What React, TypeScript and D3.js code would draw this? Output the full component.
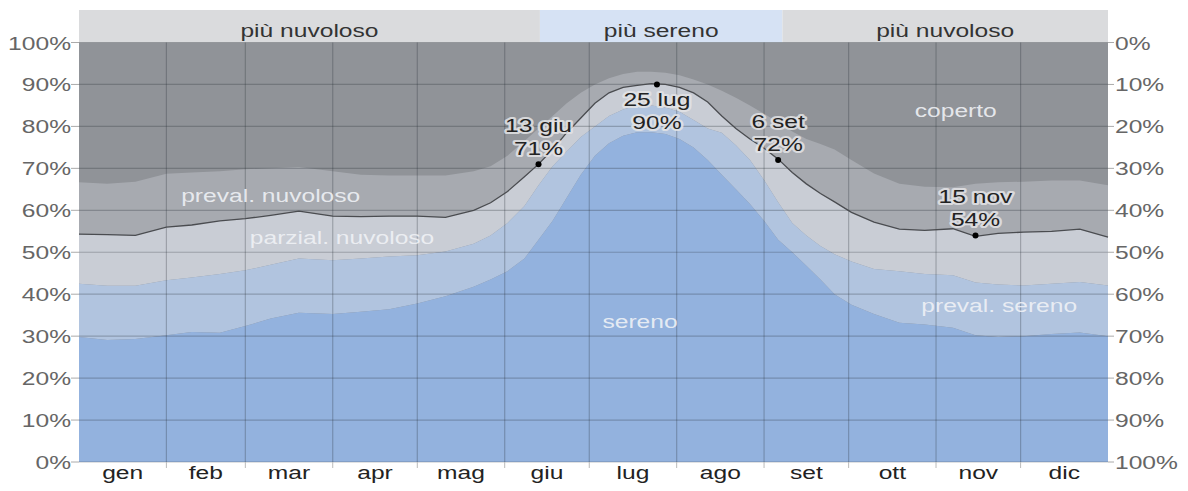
import React from "react";
import * as d3 from "d3";

// day of year (0 = 1 gen) and cumulative upper edge of each band, in %
const days = [0, 10, 20, 31, 40, 50, 59, 68, 78, 90, 100, 110, 120, 130, 140, 146, 152, 158, 163, 168, 173, 178, 183, 188, 193, 198, 203, 208, 213, 218, 223, 228, 233, 238, 243, 248, 253, 258, 263, 268, 274, 282, 291, 300, 310, 318, 326, 335, 345, 355, 365];
const sereno = [29.8, 29.1, 29.3, 30.2, 31, 30.8, 32.4, 34.2, 35.6, 35.3, 35.8, 36.4, 37.8, 39.5, 41.8, 43.5, 45.5, 48.5, 53, 57.5, 63, 68.5, 73, 76, 77.8, 78.6, 78.6, 78.2, 77, 75, 72, 68.5, 65, 61.5, 57.5, 53, 50, 46.8, 43.5, 40, 37.5, 35.3, 33.2, 32.8, 32, 30.2, 29.8, 30, 30.5, 30.9, 30];
const prevalSereno = [42.5, 42, 42, 43.3, 44, 44.8, 45.7, 47, 48.5, 48.1, 48.5, 49, 49.3, 50.2, 52, 54, 57, 61, 66, 70.5, 74, 77.5, 80, 82.5, 84, 85, 85, 84.5, 83.5, 81.5, 79.5, 78.5, 75.5, 72, 67.2, 61.9, 57, 54, 51.5, 49.5, 47.8, 46, 45.5, 44.8, 44.5, 42.8, 42.3, 42.1, 42.5, 42.9, 42.1];
const parzialNuvoloso = [54.3, 54.2, 54, 56, 56.5, 57.5, 58, 58.8, 59.8, 58.6, 58.5, 58.6, 58.6, 58.3, 60, 61.8, 64.5, 68, 71, 74.5, 78.5, 82, 85.5, 88, 89.3, 89.8, 90.2, 90, 89.3, 88, 85.8, 82.5, 79.5, 77, 74.8, 72.2, 69, 66.3, 64, 62, 59.5, 57.2, 55.5, 55.2, 55.6, 53.8, 54.5, 54.8, 55, 55.5, 53.6];
const prevalNuvoloso = [66.7, 66.3, 66.8, 68.7, 69, 69.3, 69.8, 70, 70.3, 69.3, 68.5, 68.3, 68.3, 68.3, 69.3, 70.5, 73, 76.5, 79.5, 82.5, 85.5, 88, 90, 91.5, 92.5, 93, 93, 92.8, 92.2, 91.2, 90, 88.5, 86.8, 85, 83, 81, 78.8, 77, 75.8, 74.5, 72, 68.8, 66.3, 65.6, 65.5, 66.3, 66.7, 66.8, 67.1, 67.1, 66];

const monthNames = ["gen", "feb", "mar", "apr", "mag", "giu", "lug", "ago", "set", "ott", "nov", "dic"];
const monthStarts = [0, 31, 59, 90, 120, 151, 181, 212, 243, 273, 304, 334, 365];

const annotDays = [163, 205, 248, 318];
const annotDates = ["13 giu", "25 lug", "6 set", "15 nov"];
const annotValues = [71, 90, 72, 54];

const seasons = [
  { label: "più nuvoloso", from: 0, to: 163.5 },
  { label: "più sereno", from: 163.5, to: 249.5 },
  { label: "più nuvoloso", from: 249.5, to: 365 },
];

const W = 1188;
const H = 491;
const left = 79;
const right = 1108;
const top = 42.5;
const bottom = 462;
const SX = 1.33; // the source picture is stretched sideways
const FONT = "'Liberation Sans', Arial, sans-serif";

const T = ({ x, y, anchor = "middle", size = 18.5, fill = "#333", halo = false, children }: any) => (
  <text
    transform={`translate(${x},${y}) scale(${SX},1)`}
    textAnchor={anchor}
    fontSize={size}
    fontFamily={FONT}
    fill={fill}
    stroke={halo ? "rgba(228,228,230,0.85)" : "none"}
    strokeWidth={halo ? 4 : 0}
    strokeLinejoin="round"
    style={{ paintOrder: "stroke" }}
  >
    {children}
  </text>
);

export default function App() {
  const x = d3.scaleLinear().domain([0, 365]).range([left, right]);
  const y = d3.scaleLinear().domain([0, 100]).range([bottom, top]);

  const band = (lo: number[] | null, hi: number[]) =>
    d3
      .area<number>()
      .x((_, i) => x(days[i]))
      .y0((_, i) => y(lo ? lo[i] : 0))
      .y1((_, i) => y(hi[i]))(days);

  const line = d3
    .line<number>()
    .x((_, i) => x(days[i]))
    .y((_, i) => y(parzialNuvoloso[i]))(days);

  const yTicks = d3.range(0, 101, 10);
  const peak = d3.max(annotValues);

  return (
    <svg width={W} height={H} style={{ position: "absolute", left: 0, top: 0, background: "#fff" }}>
      {seasons.map((s, i) => (
        <g key={i}>
          <rect x={x(s.from)} y={10} width={x(s.to) - x(s.from)} height={top - 10} fill={s.label === "più sereno" ? "#d6e2f4" : "#dadbdd"} />
          <T x={(x(s.from) + x(s.to)) / 2} y={36.5} fill="#333">{s.label}</T>
        </g>
      ))}

      <rect x={left} y={top} width={right - left} height={bottom - top} fill="#909398" />
      <path d={band(parzialNuvoloso, prevalNuvoloso)!} fill="#a7aab0" />
      <path d={band(prevalSereno, parzialNuvoloso)!} fill="#c9cdd5" />
      <path d={band(sereno, prevalSereno)!} fill="#b1c4df" />
      <path d={band(null, sereno)!} fill="#93b2de" />

      {yTicks.map((t) => (
        <g key={t}>
          <line x1={left} x2={right} y1={y(t)} y2={y(t)} stroke="rgba(40,45,55,0.28)" strokeWidth={1.2} />
          <line x1={left - 8} x2={left} y1={y(t)} y2={y(t)} stroke="#aaa" />
          <line x1={right} x2={right + 6} y1={y(t)} y2={y(t)} stroke="#aaa" />
          <T x={71} y={y(t) + 7} anchor="end" fill="#666">{t}%</T>
          <T x={1115} y={y(t) + 7} anchor="start" fill="#666">{100 - t}%</T>
        </g>
      ))}

      {monthStarts.slice(1, -1).map((d) => (
        <g key={d}>
          <line x1={x(d)} x2={x(d)} y1={top} y2={bottom} stroke="rgba(40,45,55,0.28)" strokeWidth={1.2} />
          <line x1={x(d)} x2={x(d)} y1={bottom} y2={bottom + 6} stroke="#bbb" />
        </g>
      ))}
      {monthNames.map((m, i) => (
        <T key={m} x={x((monthStarts[i] + monthStarts[i + 1]) / 2)} y={479} fill="#222">{m}</T>
      ))}

      <path d={line!} fill="none" stroke="#4a4c50" strokeWidth={1.3} />

      <T x={x(311)} y={y(82.3)} fill="rgba(240,242,246,0.9)">coperto</T>
      <T x={x(68)} y={y(62)} fill="rgba(240,242,246,0.9)">preval. nuvoloso</T>
      <T x={x(93.3)} y={y(52)} fill="rgba(240,242,246,0.9)">parzial. nuvoloso</T>
      <T x={x(199)} y={y(31.9)} fill="rgba(240,242,246,0.9)">sereno</T>
      <T x={x(326.4)} y={y(35.8)} fill="rgba(240,242,246,0.9)">preval. sereno</T>

      {annotDays.map((d, i) => {
        const cx = x(d);
        const cy = y(annotValues[i]);
        const below = annotValues[i] === peak;
        const y1 = below ? cy + 22 : cy - 32;
        return (
          <g key={d}>
            <circle cx={cx} cy={cy} r={3} fill="#000" />
            <T x={cx} y={y1} fill="#222" halo>{annotDates[i]}</T>
            <T x={cx} y={y1 + 23} fill="#222" halo>{annotValues[i]}%</T>
          </g>
        );
      })}
    </svg>
  );
}
